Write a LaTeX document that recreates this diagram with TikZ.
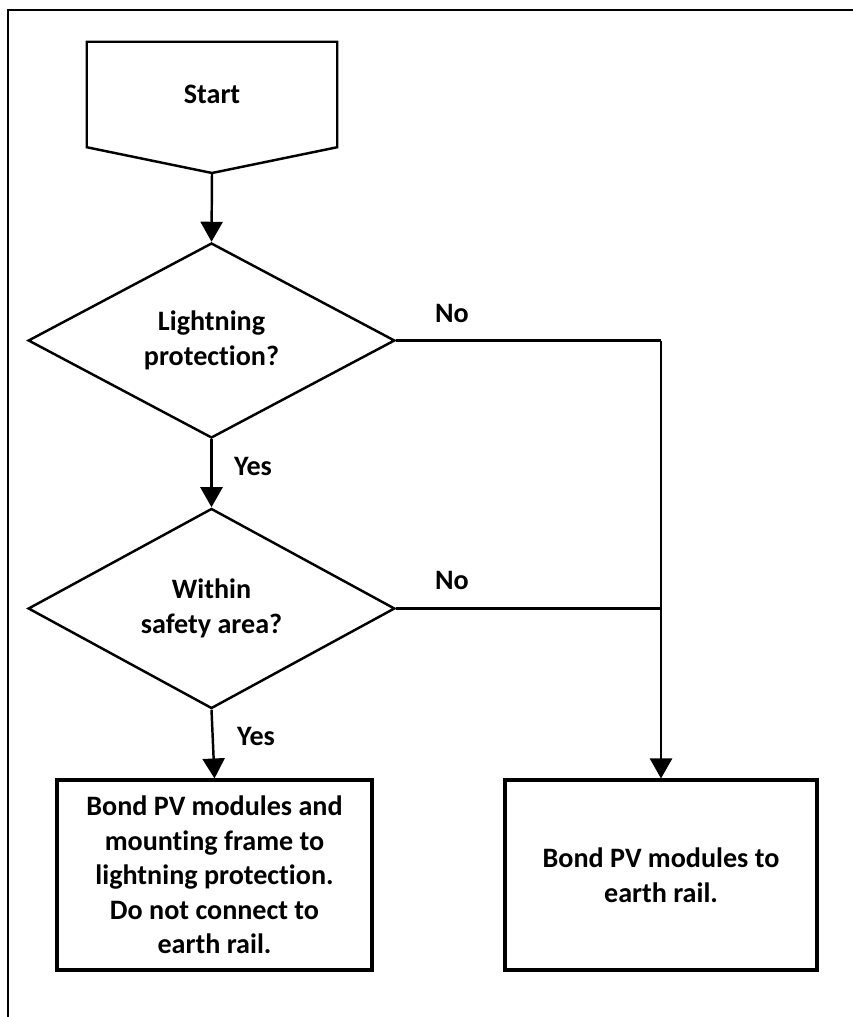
\documentclass[tikz,border=0pt]{standalone}
\usepackage{fontspec}
\setmainfont{Carlito}[Ligatures=NoCommon]
\usetikzlibrary{shapes.geometric,arrows.meta}

\begin{document}
\begin{tikzpicture}[x=0.03cm,y=-0.03cm,
  txt/.style={font=\fontsize{24}{29.5}\selectfont\bfseries, align=center},
  decision/.style={diamond, draw, line width=2.1pt, inner sep=0pt, minimum width=11cm, txt},
  process/.style={rectangle, draw, line width=2.6pt, inner sep=0pt, minimum height=5.7cm, txt},
  flow/.style={line width=2.1pt, -{Triangle[length=0.6cm,width=0.66cm]}},
  link/.style={line width=2.1pt}]
\useasboundingbox (0,0) rectangle (853,1017);

% outer frame (only top and left edges show)
\draw[line width=1.7pt] (8,1017) -- (8,10) -- (853,10);

% Start block with a pointed bottom
\node[txt, minimum width=7.5cm, minimum height=3.15cm, inner sep=0pt] (start) at (212,94.5) {Start};
\coordinate (startTip) at (212,173);
\draw[line width=2.1pt, line join=miter] (start.south west) -- (start.north west) -- (start.north east)
  -- (start.south east) -- (startTip) -- cycle;

% decisions
\node[decision, minimum height=5.85cm] (light) at (211.5,340.5) {Lightning\\protection?};
\node[decision, minimum height=5.8cm] (safe) at (211.5,608.5) {Within\\safety area?};

% actions
\node[process, minimum width=9.45cm] (bondLP) at (214.5,875) {Bond PV modules and\\mounting frame to\\lightning protection.\\Do not connect to\\earth rail.};
\node[process, minimum width=9.36cm] (bondER) at (661,875) {Bond PV modules to\\earth rail.};

% junctions on the No line
\coordinate (noTop) at (bondER.north |- light.east);
\coordinate (noMid) at (bondER.north |- safe.east);

% connectors
\draw[flow] (startTip) -- (light.north);
\draw[flow] (light.south) -- (safe.north);
\draw[flow] (safe.south) -- (bondLP.north);
\draw[link] (light.east) -- (noTop);
\draw[link] (safe.east) -- (noMid);
\draw[flow] (noTop) -- (bondER.north);

% branch labels
\node[txt] (no1) at (452,313) {No};
\node[txt] (no2) at (452,580) {No};
\node[txt] (yes1) at (253,466) {Yes};
\node[txt] (yes2) at (256,736) {Yes};

\end{tikzpicture}
\end{document}
